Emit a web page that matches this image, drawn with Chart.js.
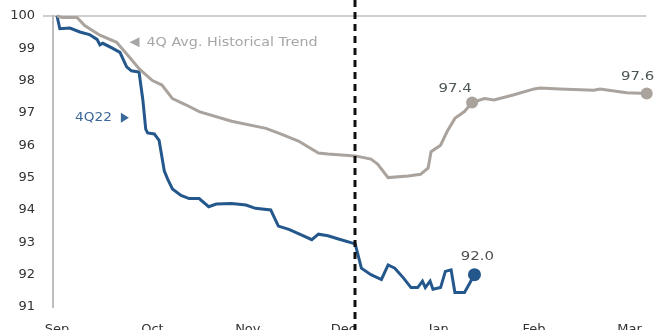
<!DOCTYPE html>
<html><head><meta charset="utf-8">
<script src="https://cdn.jsdelivr.net/npm/chart.js@4/dist/chart.umd.min.js"></script>
<style>html,body{margin:0;padding:0;background:#fff;overflow:hidden}canvas{display:block}</style>
</head><body>
<canvas id="c" width="657" height="342"></canvas>
<script>
// month positions: 0 = Sep, 1 = Oct, ... 6 = Mar
const monthLabels = ['Sep','Oct','Nov','Dec','Jan','Feb','Mar'];
const yTicks = [91,92,93,94,95,96,97,98,99,100];

const q22X = [0,0.03,0.135,0.24,0.34,0.42,0.45,0.48,0.58,0.66,0.73,0.78,0.86,0.9,0.93,0.95,1.02,1.07,1.125,1.16,1.21,1.30,1.385,1.49,1.59,1.67,1.83,1.98,2.08,2.24,2.32,2.43,2.56,2.67,2.74,2.84,2.95,3.125,3.19,3.29,3.40,3.47,3.54,3.63,3.71,3.78,3.83,3.86,3.91,3.94,4.02,4.07,4.13,4.17,4.27,4.30,4.375];
const q22Y = [100,99.6,99.62,99.5,99.42,99.27,99.1,99.15,99.0,98.87,98.42,98.3,98.26,97.4,96.5,96.38,96.35,96.15,95.2,94.95,94.65,94.45,94.35,94.35,94.1,94.18,94.2,94.15,94.05,94.0,93.5,93.4,93.23,93.08,93.25,93.2,93.1,92.95,92.2,92.0,91.85,92.3,92.2,91.9,91.6,91.6,91.8,91.6,91.8,91.55,91.6,92.1,92.15,91.45,91.45,91.6,92.0];

const avgX = [0,0.05,0.21,0.29,0.45,0.625,0.76,0.865,1.0,1.10,1.21,1.35,1.49,1.83,2.19,2.35,2.53,2.74,2.84,3.125,3.29,3.36,3.47,3.68,3.81,3.89,3.92,4.02,4.09,4.17,4.27,4.35,4.48,4.58,4.79,5.0,5.06,5.27,5.625,5.69,5.97,6.18];
const avgY = [100,99.95,99.95,99.7,99.4,99.18,98.72,98.35,98.0,97.86,97.44,97.25,97.04,96.74,96.52,96.34,96.13,95.76,95.73,95.67,95.57,95.42,95.0,95.05,95.1,95.3,95.8,96.0,96.43,96.83,97.04,97.32,97.44,97.4,97.56,97.74,97.77,97.74,97.7,97.74,97.62,97.6];

const q22Markers = [q22X.length-1];
const avgMarkers = [31, avgX.length-1];
const dividerX = 3.125;

const valueLabels = [
  {text:'97.4', x:4.35, y:97.32, dx:-17, dy:-14, color:'#4c5752'},
  {text:'97.6', x:6.18, y:97.6, dx:-9, dy:-17, color:'#4c5752'},
  {text:'92.0', x:4.375, y:92.0, dx:3, dy:-18, color:'#505050'}
];

const BLUE = '#24578c', GRAY = '#aaa39d';
const FONT = '"DejaVu Sans", "Liberation Sans", Arial, sans-serif';
const toPts = (xs, ys) => xs.map((x,i)=>({x, y:ys[i]}));

function wideText(ctx, text, x, y, sx, align){
  ctx.save();
  ctx.translate(x, y); ctx.scale(sx, 1);
  ctx.textAlign = align; ctx.fillText(text, 0, 0);
  const w = ctx.measureText(text).width * sx;
  ctx.restore();
  return w;
}

const overlay = {
  id:'overlay',
  afterDatasetsDraw(chart){
    const {ctx, scales:{x,y}} = chart;
    ctx.save();
    // dashed divider
    ctx.strokeStyle = '#111'; ctx.lineWidth = 3; ctx.setLineDash([7,5]);
    const dx = Math.round(x.getPixelForValue(dividerX));
    ctx.beginPath(); ctx.moveTo(dx, 0); ctx.lineTo(dx, chart.height); ctx.stroke();
    ctx.setLineDash([]);
    ctx.font = '13px ' + FONT;
    ctx.textBaseline = 'middle';
    valueLabels.forEach(l=>{
      ctx.fillStyle = l.color;
      wideText(ctx, l.text, x.getPixelForValue(l.x)+l.dx, y.getPixelForValue(l.y)+l.dy, 1.15, 'center');
    });
    // series labels
    ctx.font = '13px ' + FONT;
    ctx.fillStyle = '#a6a6a6';
    const gx = x.getPixelForValue(0.76), gy = y.getPixelForValue(99.18);
    ctx.beginPath(); ctx.moveTo(gx, gy); ctx.lineTo(gx+10, gy-5); ctx.lineTo(gx+10, gy+5); ctx.closePath(); ctx.fill();
    wideText(ctx, '4Q Avg. Historical Trend', gx+17, gy, 1.1, 'left');
    ctx.fillStyle = '#3a6899';
    const bx = x.getPixelForValue(0.19), by = y.getPixelForValue(96.85);
    const w = wideText(ctx, '4Q22', bx, by, 1.05, 'left');
    const tx = bx + w + 9;
    ctx.beginPath(); ctx.moveTo(tx, by-5); ctx.lineTo(tx+8, by); ctx.lineTo(tx, by+5); ctx.closePath(); ctx.fill();
    ctx.restore();
  }
};

new Chart(document.getElementById('c'), {
  type:'scatter',
  data:{datasets:[
    {label:'4Q Avg. Historical Trend', data:toPts(avgX, avgY), showLine:true, borderColor:GRAY, backgroundColor:GRAY, borderWidth:3,
     pointRadius: c => avgMarkers.includes(c.dataIndex) ? 6 : 0, pointBorderWidth:0, pointHoverRadius:0, tension:0, clip:false},
    {label:'4Q22', data:toPts(q22X, q22Y), showLine:true, borderColor:BLUE, backgroundColor:BLUE, borderWidth:3,
     pointRadius: c => q22Markers.includes(c.dataIndex) ? 6.5 : 0, pointBorderWidth:0, pointHoverRadius:0, tension:0, clip:false}
  ]},
  options:{
    responsive:false, animation:false,
    layout:{padding:{top:13, right:7, left:0, bottom:0}},
    plugins:{legend:{display:false}, tooltip:{enabled:false}},
    scales:{
      x:{type:'linear', min:-4/96, max:6+17/96,
        afterBuildTicks: s => { s.ticks = monthLabels.map((_,i)=>({value:i})); },
        afterFit: s => { s.height = 35; },
        grid:{display:false, drawTicks:false}, border:{display:false},
        ticks:{padding:15, maxRotation:0, autoSkip:false, color:'#333',
          font:{family:FONT, size:13},
          callback: v => monthLabels[v] ?? ''}
      },
      y:{type:'linear', min:91, max:100,
        afterBuildTicks: s => { s.ticks = yTicks.map(v=>({value:v})); },
        afterFit: s => { s.width = 53; },
        grid:{drawOnChartArea:true, tickLength:10, lineWidth:2,
          color: c => (c.tick && c.tick.value === 100) ? '#cfcfcf' : 'rgba(0,0,0,0)'},
        border:{display:true, color:'#bdbdbd', width:2},
        ticks:{padding:8, color:'#333', font:{family:FONT, size:13}}
      }
    }
  },
  plugins:[overlay]
});
</script>
</body></html>
